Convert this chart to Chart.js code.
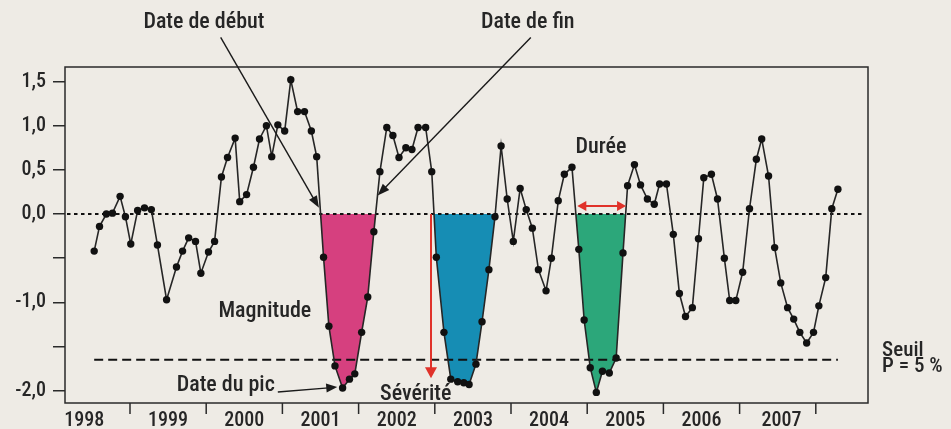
<!DOCTYPE html>
<html><head><meta charset="utf-8">
<script src="https://cdn.jsdelivr.net/npm/chart.js@4.4.1/dist/chart.umd.min.js"></script>
<style>html,body{margin:0;padding:0;background:#eeebe5;}#wrap{width:951px;height:429px;}</style>
</head><body><div id="wrap"><canvas id="c" width="951" height="429"></canvas></div>
<script>
// ---- data (decimal years, index values) ----
const dates = [
1998.53,1998.60,1998.69,1998.77,1998.87,1998.94,1999.01,1999.10,1999.19,1999.28,
1999.36,1999.48,1999.61,1999.69,1999.77,1999.86,1999.93,2000.03,2000.11,2000.20,
2000.28,2000.38,2000.44,2000.53,2000.62,2000.70,2000.79,2000.86,2000.94,2001.03,
2001.11,2001.20,2001.29,2001.38,2001.45,2001.54,2001.61,2001.69,2001.79,2001.88,
2001.95,2002.04,2002.12,2002.20,2002.28,2002.37,2002.45,2002.53,2002.62,2002.70,
2002.78,2002.88,2002.96,2003.02,2003.12,2003.21,2003.30,2003.38,2003.45,2003.54,
2003.62,2003.71,2003.79,2003.87,2003.95,2004.03,2004.12,2004.20,2004.28,2004.36,
2004.46,2004.53,2004.62,2004.70,2004.80,2004.89,2004.96,2005.04,2005.12,2005.20,
2005.29,2005.38,2005.47,2005.53,2005.62,2005.70,2005.79,2005.88,2005.95,2006.04,
2006.13,2006.21,2006.29,2006.38,2006.46,2006.53,2006.63,2006.71,2006.80,2006.87,
2006.95,2007.04,2007.13,2007.22,2007.29,2007.38,2007.46,2007.54,2007.63,2007.71,
2007.79,2007.88,2007.97,2008.04,2008.13,2008.21,2008.29];
const values = [
-0.42,-0.14,0.00,0.01,0.20,-0.03,-0.34,0.04,0.07,0.05,
-0.35,-0.97,-0.60,-0.42,-0.27,-0.31,-0.67,-0.43,-0.31,0.42,
0.64,0.86,0.14,0.22,0.53,0.85,1.00,0.65,1.01,0.94,
1.52,1.16,1.16,0.94,0.65,-0.49,-1.27,-1.72,-1.97,-1.87,
-1.81,-1.34,-0.94,-0.20,0.48,0.98,0.89,0.64,0.75,0.73,
0.98,0.98,0.48,-0.49,-1.34,-1.87,-1.90,-1.91,-1.93,-1.70,
-1.22,-0.63,-0.03,0.77,0.17,-0.31,0.29,0.05,-0.16,-0.63,
-0.87,-0.50,0.15,0.45,0.53,-0.40,-1.20,-1.74,-2.02,-1.78,
-1.80,-1.63,-0.44,0.32,0.56,0.33,0.17,0.11,0.34,0.34,
-0.23,-0.90,-1.16,-1.06,-0.28,0.41,0.45,0.17,-0.50,-0.98,
-0.98,-0.66,0.06,0.62,0.85,0.43,-0.38,-0.78,-1.06,-1.19,
-1.34,-1.46,-1.34,-1.04,-0.72,0.06,0.28];
const seuil = -1.65;
const yTicks = [-2.0,-1.5,-1.0,-0.5,0,0.5,1.0,1.5];
const yLabelled = [-2.0,-1.0,0,0.5,1.0,1.5];
const yearLabels = ['1998','1999','2000','2001','2002','2003','2004','2005','2006','2007'];
const yearLabelPos = [1998.40,1999.5,2000.5,2001.5,2002.5,2003.5,2004.5,2005.5,2006.5,2007.55];
const yearBounds = [1999,2000,2001,2002,2003,2004,2005,2006,2007,2008];
// episodes (index ranges in the series) and their colours
const episodeStart = [34,52,74];
const episodeEnd = [44,63,83];
const episodeColors = ['#d6407f','#168db4','#2ca77a'];

const FONT = "'Liberation Sans Narrow','Roboto Condensed','DejaVu Sans Condensed','Open Sans',sans-serif";
const INK = '#262626';

const pts = dates.map((d,i)=>({x:d,y:values[i]}));
const datasets = [
  {data:pts, borderColor:'#262626', borderWidth:1.6, pointRadius:3.7, pointHoverRadius:3.7,
   pointBackgroundColor:'#111', pointBorderColor:'#111', pointBorderWidth:0, tension:0, fill:false},
  {data:[{x:dates[0],y:seuil},{x:dates[dates.length-1],y:seuil}], borderColor:'#111', borderWidth:2,
   borderDash:[9,5], pointRadius:0, fill:false}
];
episodeStart.forEach((s,k)=>{
  datasets.push({data:pts.slice(s,episodeEnd[k]+1), borderColor:'rgba(0,0,0,0)', borderWidth:0,
    pointRadius:0, tension:0,
    fill:{target:{value:0}, above:'rgba(0,0,0,0)', below:episodeColors[k]}});
});

function arrow(ctx,x1,y1,x2,y2,color,w,hl,hw,both){
  ctx.save();
  ctx.strokeStyle=color; ctx.fillStyle=color; ctx.lineWidth=w;
  const a=Math.atan2(y2-y1,x2-x1);
  const head=(x,y,ang)=>{
    ctx.beginPath();
    ctx.moveTo(x,y);
    ctx.lineTo(x-hl*Math.cos(ang)+hw/2*Math.sin(ang), y-hl*Math.sin(ang)-hw/2*Math.cos(ang));
    ctx.lineTo(x-hl*Math.cos(ang)-hw/2*Math.sin(ang), y-hl*Math.sin(ang)+hw/2*Math.cos(ang));
    ctx.closePath(); ctx.fill();
  };
  const sx = both? x1+hl*0.8*Math.cos(a):x1, sy = both? y1+hl*0.8*Math.sin(a):y1;
  ctx.beginPath(); ctx.moveTo(sx,sy);
  ctx.lineTo(x2-hl*0.8*Math.cos(a), y2-hl*0.8*Math.sin(a)); ctx.stroke();
  head(x2,y2,a);
  if(both) head(x1,y1,a+Math.PI);
  ctx.restore();
}

const decor = {
  id:'decor',
  beforeDraw(chart){
    const c=chart.ctx; c.save(); c.fillStyle='#eeebe5'; c.fillRect(0,0,chart.width,chart.height); c.restore();
  },
  afterDatasetDraw(chart,args){
    if(args.index!==2) return;
    const c=chart.ctx, a=chart.chartArea, y=chart.scales.y.getPixelForValue(0);
    c.save(); c.strokeStyle='#111'; c.lineWidth=2; c.setLineDash([3.5,3.5]);
    c.beginPath(); c.moveTo(a.left+2,y); c.lineTo(a.right-5,y); c.stroke(); c.restore();
  },
  afterDraw(chart){
    const c=chart.ctx, a=chart.chartArea, X=chart.scales.x, Y=chart.scales.y;
    const px=v=>X.getPixelForValue(v), py=v=>Y.getPixelForValue(v);
    c.save();
    c.strokeStyle='#2a2a2a'; c.lineWidth=1.5;
    c.strokeRect(a.left,a.top,a.right-a.left,a.bottom-a.top);
    yearBounds.forEach(b=>{const x=px(b); c.beginPath(); c.moveTo(x,a.bottom); c.lineTo(x,a.bottom+11); c.stroke();});
    c.fillStyle=INK; c.textBaseline='middle';
    c.font='500 22px '+FONT; c.textAlign='center';
    c.fillText('Date de début',px(1999.97),py(2.17));
    c.fillText('Date de fin',px(2004.22),py(2.17));
    c.fillText('Durée',px(2005.18),py(0.75));
    c.fillText('Magnitude',px(2000.77),py(-1.10));
    c.fillText('Sévérité',px(2002.75),py(-2.04));
    c.textAlign='right';
    c.fillText('Date du pic',px(2000.90),py(-1.937));
    c.textAlign='left'; c.font='500 21px '+FONT;
    c.fillText('Seuil',px(2008.87),py(-1.545));
    c.fillText('P = 5 %',px(2008.87),py(-1.735));
    arrow(c,px(2000.19),py(2.00),px(2001.48),py(0.07),'#1a1a1a',1.4,12,9,false);
    arrow(c,px(2004.26),py(2.00),px(2002.25),py(0.21),'#1a1a1a',1.4,12,9,false);
    arrow(c,px(2000.94),py(-2.016),px(2001.72),py(-1.96),'#1a1a1a',1.4,11,9,false);
    arrow(c,px(2002.95),py(0),px(2002.95),py(-1.86),'#e0322a',2,11,12,false);
    arrow(c,px(2004.87),py(0.09),px(2005.51),py(0.09),'#e0322a',2,9,10,true);
    c.restore();
  }
};

new Chart(document.getElementById('c'),{
  type:'line',
  data:{datasets},
  plugins:[decor],
  options:{
    responsive:false, animation:false, devicePixelRatio:1,
    layout:{padding:{top:67,right:83,left:0,bottom:0}},
    plugins:{legend:{display:false},tooltip:{enabled:false}},
    scales:{
      x:{type:'linear', min:1998.147, max:2008.685,
        afterBuildTicks(s){s.ticks=yearLabelPos.map(v=>({value:v}));},
        afterFit(s){s.height=26;},
        grid:{display:false,drawTicks:false}, border:{display:false},
        ticks:{autoSkip:false,maxRotation:0,padding:6,color:INK,font:{family:FONT,size:20,weight:'500'},
          callback:(v,i)=>yearLabels[i]}},
      y:{type:'linear', min:-2.14, max:1.665,
        afterBuildTicks(s){s.ticks=yTicks.map(v=>({value:v}));},
        afterFit(s){s.width=65;},
        grid:{drawOnChartArea:false,drawTicks:true,tickLength:12,color:'#2a2a2a',lineWidth:1.5},
        border:{display:false},
        ticks:{padding:7,color:INK,font:{family:FONT,size:20,weight:'500'},
          callback:v=>yLabelled.includes(v)?v.toFixed(1).replace('.',','):''}}
    }
  }
});
</script></body></html>
